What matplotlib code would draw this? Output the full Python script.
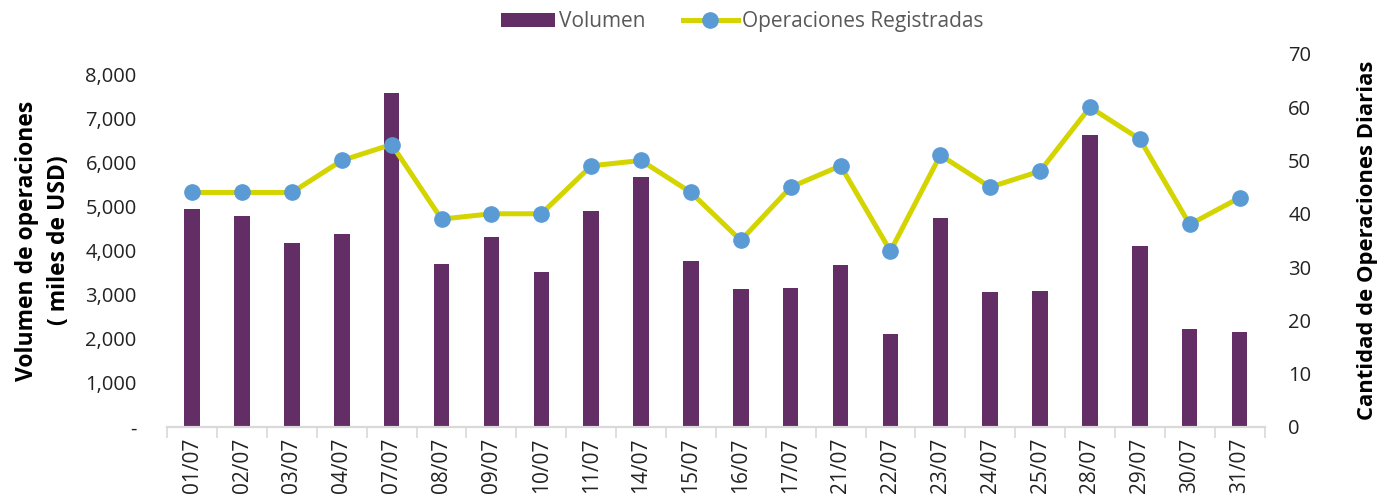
import numpy as np
import matplotlib
matplotlib.use("Agg")
import matplotlib.pyplot as plt
from matplotlib.ticker import FuncFormatter

plt.rcParams['font.family'] = ['Open Sans', 'DejaVu Sans']

# Data
fechas = ['01/07', '02/07', '03/07', '04/07', '07/07', '08/07', '09/07', '10/07',
          '11/07', '14/07', '15/07', '16/07', '17/07', '21/07', '22/07', '23/07',
          '24/07', '25/07', '28/07', '29/07', '30/07', '31/07']
volumen = [4950, 4800, 4180, 4390, 7600, 3710, 4310, 3530,
           4910, 5670, 3770, 3140, 3150, 3670, 2110, 4740,
           3060, 3100, 6640, 4110, 2230, 2160]
operaciones = [44, 44, 44, 50, 53, 39, 40, 40,
               49, 50, 44, 35, 45, 49, 33, 51,
               45, 48, 60, 54, 38, 43]

BAR_COLOR = '#632d65'
LINE_COLOR = '#d4d400'
MARKER_COLOR = '#5b9bd5'
TEXT_COLOR = '#222222'
GRID_GRAY = '#d9d9d9'

fig = plt.figure(figsize=(13.82, 5.04), dpi=100)
ax = fig.add_axes([0.121, 0.153, 0.794, 0.740])
ax2 = ax.twinx()

x = np.arange(len(fechas))
ax.bar(x, volumen, width=0.31, color=BAR_COLOR, label='Volumen', zorder=2)
ax2.plot(x, operaciones, color=LINE_COLOR, linewidth=3.6, marker='o',
         markersize=11, markerfacecolor=MARKER_COLOR, markeredgecolor=MARKER_COLOR,
         label='Operaciones Registradas', zorder=3)

ax.set_xlim(-0.5, len(fechas) - 0.5)
ax.set_ylim(0, 8000 * 373 / 352)
ax2.set_ylim(0, 70)

ax.set_yticks(np.arange(0, 8001, 1000))
ax.yaxis.set_major_formatter(FuncFormatter(lambda v, p: '-' if v == 0 else f'{int(v):,}'))
ax2.set_yticks(np.arange(0, 71, 10))

ax.set_xticks(x)
ax.set_xticklabels(fechas, rotation=90, fontsize=15, color=TEXT_COLOR)
ax.set_xticks(np.arange(-0.5, len(fechas)), minor=True)
ax.tick_params(axis='x', which='major', length=0, pad=8)
ax.tick_params(axis='x', which='minor', length=8, color=GRID_GRAY, width=1.2)
ax.tick_params(axis='y', length=0, labelsize=14.5, labelcolor=TEXT_COLOR, pad=22)
ax2.tick_params(axis='y', length=0, labelsize=14.5, labelcolor=TEXT_COLOR, pad=17)

for a in (ax, ax2):
    for s in ('top', 'left', 'right'):
        a.spines[s].set_visible(False)
    a.spines['bottom'].set_color(GRID_GRAY)
    a.spines['bottom'].set_linewidth(1.5)

ax.set_ylabel('Volumen de operaciones\n( miles de USD)', fontsize=16.5, fontweight='bold',
              color='black', linespacing=1.4)
ax.yaxis.set_label_coords(-0.088, 0.5)
ax2.set_ylabel('Cantidad de Operaciones Diarias', fontsize=15.8, fontweight='bold',
               color='black')
ax2.yaxis.set_label_coords(1.084, 0.5)

h1, l1 = ax.get_legend_handles_labels()
h2, l2 = ax2.get_legend_handles_labels()
fig.legend(h1 + h2, l1 + l2, loc='upper center', bbox_to_anchor=(0.537, 1.015), ncol=2,
           frameon=False, fontsize=15, labelcolor='#595959', handlelength=2.6,
           handletextpad=0.2, columnspacing=1.8)

plt.savefig('out.png', dpi=100, facecolor='white')
plt.close()
